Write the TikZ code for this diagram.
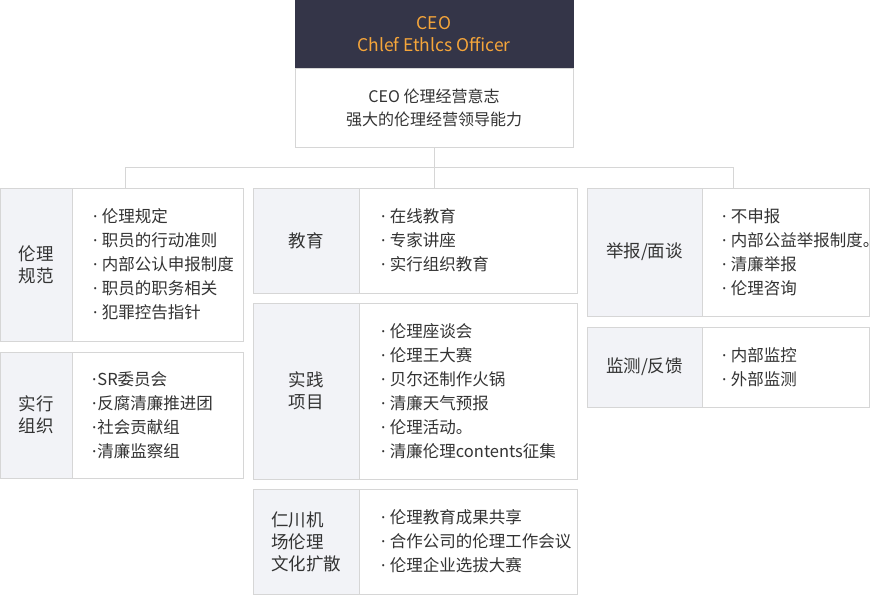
\documentclass[tikz,border=0pt]{standalone}
\usepackage{fontspec}
\setmainfont{Noto Sans CJK SC}
\newfontfamily\latinfont{Noto Sans}
\usepackage{xcolor}
\usepackage{tikz}
\usetikzlibrary{positioning}

\definecolor{headbg}{HTML}{343548}
\definecolor{headtx}{HTML}{F5A53A}
\definecolor{lblbg}{HTML}{F2F3F7}
\definecolor{rule}{HTML}{D6D6D6}
\definecolor{txt}{HTML}{333333}

\hyphenpenalty=10000
\exhyphenpenalty=10000
% bullet, with or without a gap
\newcommand{\bul}{{\latinfont ·}\kern4.5pt}
\newcommand{\bult}{{\latinfont ·}\kern1pt}

\tikzset{
    box/.style={draw=rule, line width=1pt, outer sep=0pt, inner sep=0pt},
    lbl/.style={box, fill=lblbg, text=txt, align=center, font=\fontsize{17.5}{22}\selectfont},
    lst/.style={box, fill=white, text=txt, align=left, inner xsep=#1, font=\fontsize{16.5}{24}\selectfont},
    link/.style={draw=rule, line width=1pt},
}

\begin{document}
\begin{tikzpicture}[x=1pt,y=-1pt]
        \useasboundingbox (0,0) rectangle (870,595);
        % top
        \node[box, draw=headbg, fill=headbg, text=headtx, align=center, font=\fontsize{17.5}{22}\selectfont,
              minimum width=278pt, minimum height=68pt, anchor=north west] (ceo) at (295,0) {CEO\\Chlef Ethlcs Officer};
        \node[box, fill=white, text=txt, align=center, font=\fontsize{16}{23}\selectfont,
              minimum width=278pt, minimum height=79pt, below=0pt of ceo] (will) {CEO 伦理经营意志\\强大的伦理经营领导能力};

        % left column
        \node[lbl, minimum width=72pt, minimum height=153pt, anchor=north west] (codeL) at (0,188) {伦理\\规范};
        \node[lst=21pt, text width=129pt, minimum width=171pt, minimum height=153pt, right=0pt of codeL] (codeC)
            {\bul 伦理规定\\\bul 职员的行动准则\\\bul 内部公认申报制度\\\bul 职员的职务相关\\\bul 犯罪控告指针};
        \node[lbl, minimum width=72pt, minimum height=126pt, anchor=north west] (orgL) at (0,352) {实行\\组织};
        \node[lst=20pt, text width=131pt, minimum width=171pt, minimum height=126pt, right=0pt of orgL] (orgC)
            {\bult SR委员会\\\bult 反腐清廉推进团\\\bult 社会贡献组\\\bult 清廉监察组};

        % middle column
        \node[lbl, minimum width=106pt, minimum height=105pt, anchor=north west] (eduL) at (253,188) {教育};
        \node[lst=22pt, text width=174pt, minimum width=218pt, minimum height=105pt, right=0pt of eduL] (eduC)
            {\bul 在线教育\\\bul 专家讲座\\\bul 实行组织教育};
        \node[lbl, minimum width=106pt, minimum height=176pt, anchor=north west] (prjL) at (253,303) {实践\\项目};
        \node[lst=22pt, text width=174pt, minimum width=218pt, minimum height=176pt, right=0pt of prjL] (prjC)
            {\bul 伦理座谈会\\\bul 伦理王大赛\\\bul 贝尔还制作火锅\\\bul 清廉天气预报\\\bul 伦理活动。\\\bul 清廉伦理contents征集};
        \node[lbl, align=left, minimum width=106pt, minimum height=105pt, anchor=north west] (culL) at (253,489) {仁川机\\场伦理\\文化扩散};
        \node[lst=22pt, text width=174pt, minimum width=218pt, minimum height=105pt, right=0pt of culL] (culC)
            {\bul 伦理教育成果共享\\\bul 合作公司的伦理工作会议\\\bul 伦理企业选拔大赛};

        % right column
        \node[lbl, minimum width=115pt, minimum height=128pt, anchor=north west] (repL) at (587,188) {举报/面谈};
        \node[lst=20pt, text width=127pt, minimum width=167pt, minimum height=128pt, right=0pt of repL] (repC)
            {\bul 不申报\\\bul 内部公益举报制度\rlap{。}\\\bul 清廉举报\\\bul 伦理咨询};
        \node[lbl, minimum width=115pt, minimum height=80pt, anchor=north west] (monL) at (587,327) {监测/反馈};
        \node[lst=20pt, text width=127pt, minimum width=167pt, minimum height=80pt, right=0pt of monL] (monC)
            {\bul 内部监控\\\bul 外部监测};

        % connectors
        \coordinate (brL) at (125,167);
        \coordinate (brR) at (733,167);
        \draw[link] (brL) -- (brR);
        \draw[link] (brL) -- (brL |- codeL.north);
        \draw[link] (will.south) -- (will.south |- eduL.north);
        \draw[link] (brR) -- (brR |- repL.north);
    \end{tikzpicture}
\end{document}
